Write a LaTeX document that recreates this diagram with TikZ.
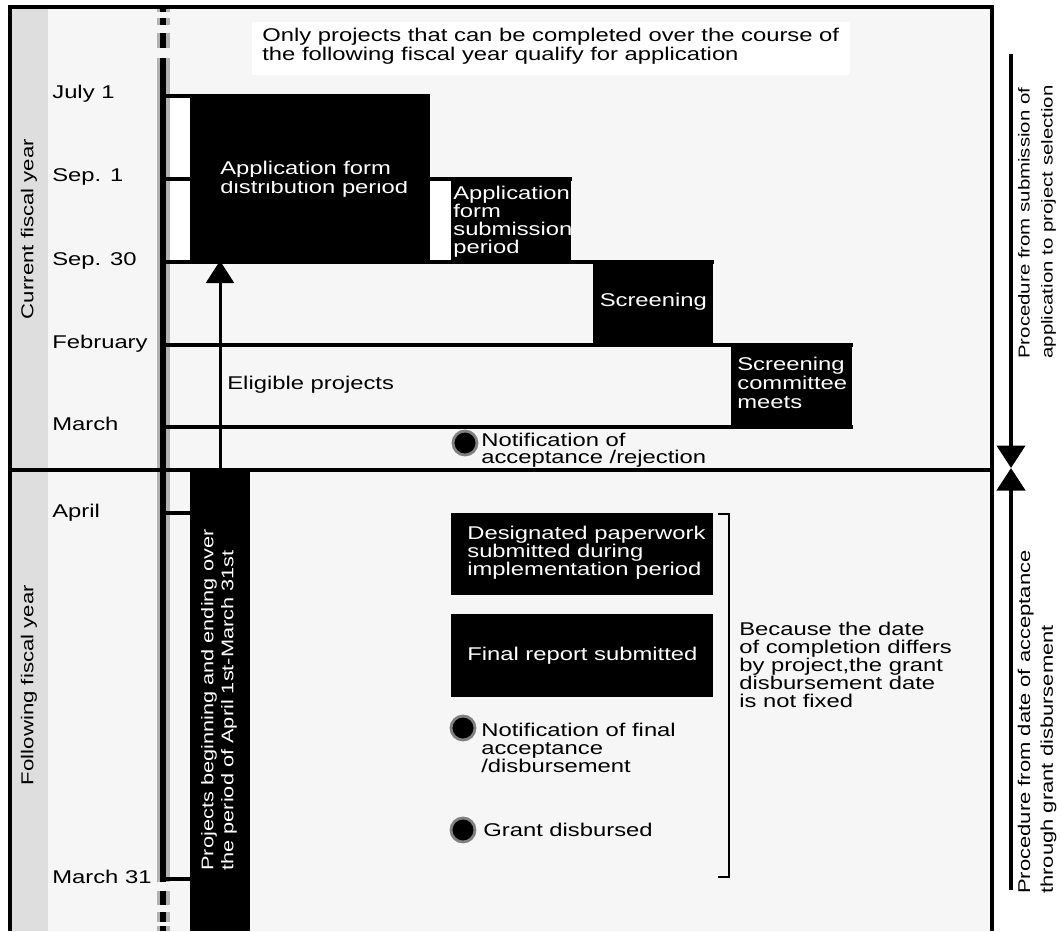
\documentclass[tikz,border=0pt]{standalone}
\usepackage{fontspec}
\setmainfont{Liberation Sans}[FakeStretch=1.29]
\usetikzlibrary{positioning,arrows.meta}
\newcommand{\tf}{\fontsize{10.5}{10.2}\selectfont}
\definecolor{panel}{HTML}{F6F6F6}
\definecolor{strip}{HTML}{DEDEDE}

\tikzset{
  every node/.style={font=\tf, inner sep=0pt},
  period/.style={fill=black, anchor=north west},
  boxtext/.style={text=white, align=left},
  monthlab/.style={anchor=base west},
  yearlab/.style={rotate=90, font=\fontsize{9.8}{10}\selectfont},
  note/.style={anchor=north west, align=left},
  stage/.style={line width=0.08cm},
  tickline/.style={line width=0.065cm},
  bullet/.style={circle, fill=black, draw=gray, line width=1.6pt, minimum size=0.48cm},
  bigtip/.style={-{Triangle[width=0.56cm,length=0.45cm]}},
}

\begin{document}
\begin{tikzpicture}[x=0.02cm,y=-0.02cm]
	\useasboundingbox (0,0) rectangle (1061,931);
	\fill[white] (0,0) rectangle (1061,931);
	
	% panel and year strip
	\fill[panel] (10,7) rectangle (992,931);
	\fill[strip] (12,9) rectangle (48,931);
	\fill[white] (170,97) rectangle (190,260);
	\fill[white] (430,181) rectangle (451,260);
	
	\node[yearlab] (curyr) at (29,229) {Current fiscal year};
	\node[yearlab] (folyr) at (29,685) {Following fiscal year};
	
	% note
	\node[fill=white, anchor=north west, minimum width=11.96cm, minimum height=1.06cm] (notebox) at (252,22) {};
	\node[note, font=\fontsize{10.5}{8.8}\selectfont] (notetxt) at (262,28)
		{Only projects that can be completed over the course of\\the following fiscal year qualify for application};
	
	% timeline bar
	\coordinate (bartop) at (163,58);
	\coordinate (barbot) at (163,882);
	\draw[gray!60, line width=0.26cm] (bartop) -- (barbot);
	\draw[line width=0.12cm] (bartop) -- (barbot);
	\foreach \a/\b in {8/12,18/25,33/48,891/905,912/922,926/931} {
		\fill[gray!60] (157,\a) rectangle (170,\b);
		\fill[black] (160,\a) rectangle (166,\b);
	}
	
	% months
	\node[monthlab] (july) at (52,98) {July 1};
	\node[monthlab] (sep1) at (52,181) {Sep. 1};
	\node[monthlab] (sep30) at (52,265) {Sep. 30};
	\node[monthlab] (feb) at (52,348) {February};
	\node[monthlab] (mar) at (52,430) {March};
	\node[monthlab] (apr) at (52,517) {April};
	\node[monthlab] (mar31) at (52,883) {March 31};
	
	\coordinate (julyT) at (166,96);
	\coordinate (sep1T) at (166,179);
	\coordinate (sep30T) at (166,262);
	\coordinate (febT) at (166,345);
	\coordinate (marT) at (166,427);
	\coordinate (aprT) at (166,513);
	\coordinate (mar31T) at (166,879);
	
	% periods
	\node[period, minimum width=4.8cm, minimum height=3.32cm] (distr) at (190,94) {};
	\node[boxtext, note, font=\fontsize{10.5}{8.8}\selectfont] (distrtxt) at (220,161)
		{Application form\\distribution period};
	\node[period, minimum width=2.4cm, minimum height=1.66cm] (subm) at (451,177) {};
	\node[boxtext, note] (submtxt) at (453,186) {Application\\form\\submission\\period};
	\node[period, minimum width=2.4cm, minimum height=1.66cm] (screen) at (593,260) {};
	\node[boxtext] (screentxt) at (screen) {Screening};
	\node[period, minimum width=2.42cm, minimum height=1.68cm] (commit) at (731,343) {};
	\node[boxtext, note, font=\fontsize{10.5}{10.8}\selectfont] (committxt) at (737,357)
		{Screening\\committee\\meets};
	\node[period, minimum width=1.2cm, minimum height=9.18cm] (proj) at (190,472) {};
	\node[boxtext, rotate=90, font=\fontsize{9.6}{11.3}\selectfont] (projtxt) at (219,700)
		{Projects beginning and ending over\\the period of April 1st-March 31st};
	\node[period, minimum width=5.24cm, minimum height=1.64cm] (paper) at (451,513) {};
	\node[boxtext, note] (papertxt) at (467,526)
		{Designated paperwork\\submitted during\\implementation period};
	\node[period, minimum width=5.24cm, minimum height=1.66cm] (report) at (451,614) {};
	\node[boxtext] (reporttxt) at (report) {Final report submitted};
	
	\draw[stage] (julyT) -- (julyT -| distr.west);
	\draw[stage] (sep1T) -- (sep1T -| subm.east);
	\draw[stage] (sep30T) -- (sep30T -| screen.east);
	\draw[stage] (febT) -- (febT -| commit.east);
	\draw[stage] (marT) -- (marT -| commit.east);
	\draw[tickline] (aprT) -- (aprT -| proj.west);
	\draw[tickline] (mar31T) -- (mar31T -| proj.west);
	
	% year divider and frame
	\coordinate (divL) at (10,470);
	\coordinate (divR) at (992,470);
	\draw[line width=0.09cm] (divL) -- (divR);
	\draw[line width=0.09cm] (10,931) -- (10,7) -- (992,7) -- (992,931);
	
	% eligible projects
	\coordinate (eligB) at (220,470);
	\draw[bigtip, line width=0.06cm] (eligB) -- (eligB |- distr.south);
	\node[anchor=west] (elig) at (227,385) {Eligible projects};
	
	% notifications
	\node[bullet] (notif1) at (465,443) {};
	\node[note, font=\fontsize{10.5}{9.6}\selectfont] (notif1txt) at (481,433)
		{Notification of\\acceptance /rejection};
	\node[bullet] (notif2) at (463,728) {};
	\node[note] (notif2txt) at (481,723)
		{Notification of final\\acceptance\\/disbursement};
	\node[bullet] (grant) at (463,830) {};
	\node[anchor=west] (granttxt) at (483,830) {Grant disbursed};
	
	% bracket
	\coordinate (brtop) at (718,514);
	\coordinate (brbot) at (718,877);
	\draw[line width=0.05cm] (brtop) -- ++(11,0) |- (brbot);
	\node[note] (because) at (739,622)
		{Because the date\\of completion differs\\by project,the grant\\disbursement date\\is not fixed};
	
	% procedure arrows
	\coordinate (selT) at (1011,54);
	\coordinate (midX) at (1011,468);
	\coordinate (accB) at (1011,890);
	\draw[bigtip, line width=0.085cm] (selT) -- (midX);
	\draw[bigtip, line width=0.085cm] (accB) -- (midX);
	\node[rotate=90, align=left, font=\fontsize{9}{13}\selectfont] (seltxt) at (1037,222)
		{Procedure from submission of\\application to project selection};
	\node[rotate=90, align=left, font=\fontsize{9.7}{13}\selectfont] (acctxt) at (1037,722)
		{Procedure from date of acceptance\\through grant disbursement};
	
\end{tikzpicture}
\end{document}
